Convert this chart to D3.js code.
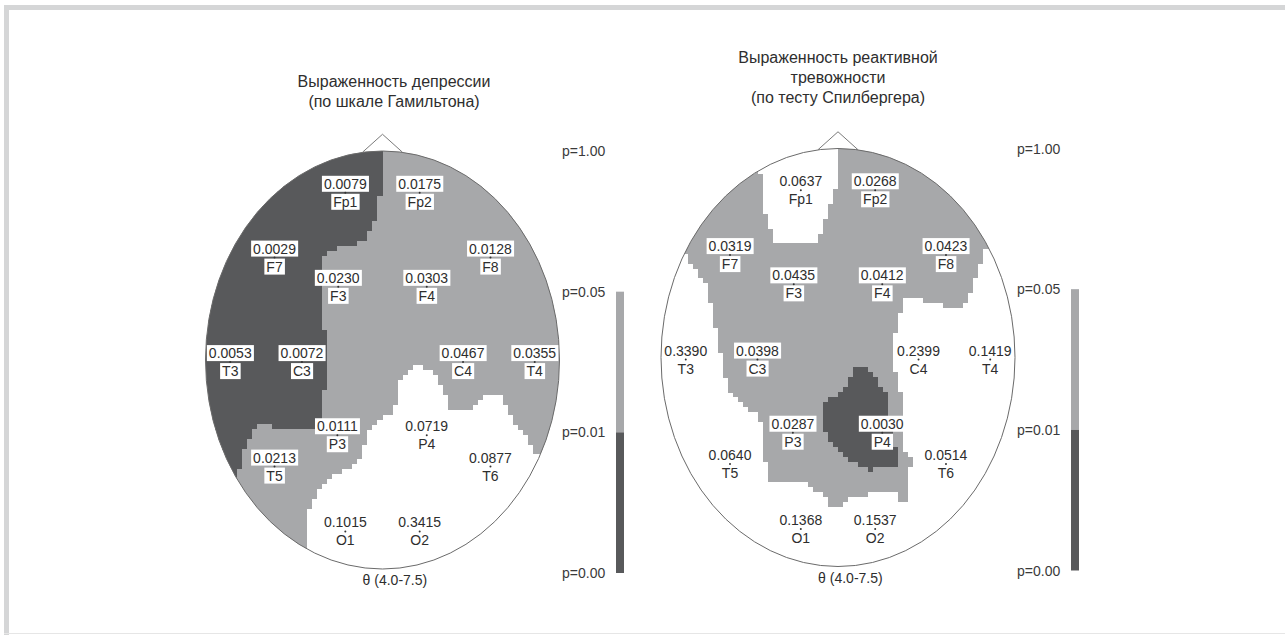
<!DOCTYPE html>
<html>
<head>
<meta charset="utf-8">
<script src="https://cdn.jsdelivr.net/npm/d3@7"></script>
<style>
  body { margin: 0; background: #fff; }
  svg text { font-family: "Liberation Sans", Arial, sans-serif; fill: #2e2e2e; }
</style>
</head>
<body>
<svg id="chart" width="1285" height="635"></svg>
<script>
// electrode montage, coordinates in % of head radius (x right, y down)
var electrodes = ["Fp1", "Fp2", "F7", "F8", "F3", "F4", "T3", "C3", "C4", "T4", "P3", "P4", "T5", "T6", "O1", "O2"];
var elecX = [-21, 21, -61, 61, -25, 25, -86, -45.5, 45.5, 86, -25.5, 25, -61, 61, -21, 21];
var elecY = [-80, -80, -49, -49, -35, -35, 1, 1, 1, 1, 36, 36, 51, 51, 82, 82];

// p-values per electrode
var pDepression = [0.0079, 0.0175, 0.0029, 0.0128, 0.0230, 0.0303, 0.0053, 0.0072, 0.0467, 0.0355, 0.0111, 0.0719, 0.0213, 0.0877, 0.1015, 0.3415];
var pAnxiety = [0.0637, 0.0268, 0.0319, 0.0423, 0.0435, 0.0412, 0.3390, 0.0398, 0.2399, 0.1419, 0.0287, 0.0030, 0.0640, 0.0514, 0.1368, 0.1537];

var titleDepression = ["Выраженность депрессии", "(по шкале Гамильтона)"];
var titleAnxiety = ["Выраженность реактивной", "тревожности", "(по тесту Спилбергера)"];
var bandLabel = "θ (4.0-7.5)";

var legendTicks = ["p=1.00", "p=0.05", "p=0.01", "p=0.00"];
var legendClasses = ["ns", "p05", "p01"];

// significance areas (same % of head radius)
var depressionP01 = [[1, -125], [1, -88.5], [-0.3, -88.5], [-0.3, -78], [-2.5, -78], [-2.5, -67], [-4.2, -67], [-5.9, -62.2], [-8.8, -58.9], [-11.6, -56.5], [-24, -54.1], [-31.4, -51.2], [-34.7, -47.8], [-34.2, -14.4], [-31.4, -14.4], [-31.4, 12], [-33.6, 16.7], [-33.6, 32.5], [-63.6, 32.5], [-63.6, 30.6], [-68.1, 30.6], [-73.2, 34.4], [-74.9, 36.8], [-77.7, 41.6], [-78.8, 47.8], [-80.5, 51.7], [-86.2, 59.8], [-131, 60], [-131, -125]];
var depressionNS = [[-43.8, 124.4], [-43.8, 81.3], [-42.1, 73.2], [-39.3, 67], [-37, 63.2], [-33.6, 58.9], [-28, 56], [-20.1, 52.6], [-14.4, 49.3], [-11, 44.5], [-8.8, 34.9], [-6, 32.1], [-1.4, 27.8], [4.2, 26.3], [8.8, 19.1], [9.9, 9.6], [13.8, 5.7], [17.2, 3.8], [21.2, 2.9], [26.8, 4.8], [31.4, 9.6], [35.3, 15.8], [38.1, 22.5], [39.8, 24.9], [47.7, 23.9], [53.4, 20.6], [56.8, 17.7], [60.7, 15.8], [66.4, 15.8], [68.1, 19.1], [72, 25.4], [74.9, 30.1], [77.7, 33.5], [81.6, 36.8], [84.5, 40.7], [85, 45.5], [106, 46.4], [106, 124.4]];

var anxietyP05 = [[-134.5, -123.2], [148, -123.2], [148, -51.4], [81.9, -51.4], [81.9, -48.1], [80.2, -43.3], [77.4, -37.1], [74.6, -30.9], [71.8, -26.1], [70.1, -22.7], [60.5, -22.7], [60.5, -25.1], [50.3, -26.1], [45.2, -28.9], [37.9, -28.9], [36.7, -26.1], [35, -21.3], [33.3, -14.6], [31.1, -8.4], [32.2, 4.5], [33.3, 10.8], [35, 15.6], [36.7, 20.3], [36.7, 42.8], [39.5, 47.6], [41.8, 48.1], [39.5, 62], [39, 69.6], [33.9, 68.2], [33.3, 64.4], [18.1, 64.8], [8.5, 66.7], [5.1, 68.2], [2.3, 72], [-4.5, 72], [-6.2, 68.2], [-10.2, 64.8], [-14.1, 62], [-16.9, 59.6], [-40.1, 60], [-41.2, 49], [-42.4, 44.3], [-42.9, 36.1], [-44.1, 29.9], [-46.9, 26.6], [-51.4, 24.2], [-57.1, 20.3], [-62.1, 14.1], [-63.8, 9.3], [-65.5, 1.2], [-67.8, -8.4], [-69.5, -14.6], [-71.2, -21.3], [-74, -32.3], [-76.3, -37.1], [-79.1, -40.4], [-81.9, -43.3], [-85.3, -46.7], [-86.4, -50], [-134.5, -50]];
var anxietyNS = [[-45.8, -123.2], [-44.1, -88.8], [-42.9, -78.7], [-41.2, -69.1], [-38.4, -62.4], [-35.6, -59.6], [-35.6, -55.3], [-11.9, -55.3], [-9, -62.4], [-6.2, -69.1], [-3.4, -73.9], [-1.7, -78.7], [-0.6, -84.9], [-0.6, -123.2]];
var anxietyP01 = [[9.6, 5], [14.1, 5], [18.1, 7.4], [22, 10.8], [25.4, 14.6], [28.2, 17.9], [29.4, 20.3], [29.4, 31.3], [31.1, 39.5], [33.9, 47.6], [33.9, 51.4], [19.8, 52.9], [18.1, 55.3], [16.4, 52.9], [9.6, 50.5], [5.1, 47.6], [0, 45.2], [-4.5, 40.9], [-7.3, 36.1], [-10.2, 33.3], [-7.3, 20.3], [-4.5, 18.9], [1.1, 17], [4, 14.6], [6.8, 10.8]];

var classColor = d3.scaleOrdinal()
    .domain(["ns", "p05", "p01"])
    .range(["#ffffff", "#a7a8aa", "#58595b"]);

var svg = d3.select("#chart");

// frame
svg.append("rect").attr("x", 4).attr("y", 5).attr("width", 1290).attr("height", 5).attr("fill", "#d5d6d7");
svg.append("rect").attr("x", 4).attr("y", 5).attr("width", 5).attr("height", 640).attr("fill", "#d5d6d7");
svg.append("rect").attr("x", 4).attr("y", 633).attr("width", 1290).attr("height", 1).attr("fill", "#e6e6e6");

var panels = [
    {id: "dep", cx: 382.5, cy: 360, title: titleDepression, titleX: 394, titleY: 87, p: pDepression,
     base: "p05", layers: [["p01", depressionP01], ["ns", depressionNS]], legendX: 562, legendY: 0},
    {id: "anx", cx: 838, cy: 357.5, title: titleAnxiety, titleX: 838, titleY: 63, p: pAnxiety,
     base: "ns", layers: [["p05", anxietyP05], ["ns", anxietyNS], ["p01", anxietyP01]], legendX: 1017, legendY: -2.5}
];

var rx = 177, ry = 209;
var nCols = 72, nRows = 86;

panels.forEach(function(pn) {
    var x = d3.scaleLinear().domain([-100, 100]).range([pn.cx - rx, pn.cx + rx]);
    var y = d3.scaleLinear().domain([-100, 100]).range([pn.cy - ry, pn.cy + ry]);
    var g = svg.append("g");

    // title
    g.append("text")
        .attr("text-anchor", "middle")
        .style("font-size", "16px")
        .selectAll("tspan")
        .data(pn.title)
        .enter()
        .append("tspan")
        .attr("x", pn.titleX)
        .attr("y", function(d, i) { return pn.titleY + i * 20; })
        .text(function(d) { return d; });

    // clip to head
    g.append("clipPath").attr("id", "clip-" + pn.id)
        .append("ellipse")
        .attr("cx", x(0)).attr("cy", y(0))
        .attr("rx", x(100) - x(0)).attr("ry", y(100) - y(0));

    // rasterise the significance areas on a grid, run-length per row
    var cw = 204 / nCols, ch = 204 / nRows;
    var runs = [];
    for (var j = 0; j < nRows; j++) {
        var Y = -102 + (j + 0.5) * ch;
        var cur = null, start = 0;
        for (var i = 0; i <= nCols; i++) {
            var cls = null;
            if (i < nCols) {
                var X = -102 + (i + 0.5) * cw;
                cls = pn.base;
                pn.layers.forEach(function(l) {
                    if (d3.polygonContains(l[1], [X, Y])) cls = l[0];
                });
            }
            if (cls !== cur) {
                if (cur !== null && cur !== "ns") runs.push({cls: cur, x0: -102 + start * cw, x1: -102 + i * cw, y0: -102 + j * ch, y1: -102 + (j + 1) * ch});
                cur = cls; start = i;
            }
        }
    }

    g.append("g")
        .attr("clip-path", "url(#clip-" + pn.id + ")")
        .selectAll("rect")
        .data(runs)
        .enter()
        .append("rect")
        .attr("x", function(d) { return x(d.x0); })
        .attr("y", function(d) { return y(d.y0); })
        .attr("width", function(d) { return x(d.x1) - x(d.x0); })
        .attr("height", function(d) { return y(d.y1) - y(d.y0) + 0.3; })
        .attr("fill", function(d) { return classColor(d.cls); })
        .attr("shape-rendering", "crispEdges");

    // head outline and nose
    g.append("ellipse")
        .attr("cx", x(0)).attr("cy", y(0))
        .attr("rx", x(100) - x(0)).attr("ry", y(100) - y(0))
        .attr("fill", "none").attr("stroke", "#6a6a6a").attr("stroke-width", 1);
    g.append("path")
        .attr("d", d3.line()([[x(-11.3), y(-99.4)], [x(0), y(-108)], [x(11.3), y(-99.4)]]))
        .attr("fill", "none").attr("stroke", "#7a7a7a").attr("stroke-width", 1);

    // electrodes
    var el = g.selectAll("g.el")
        .data(electrodes.map(function(n, k) { return {name: n, x: elecX[k], y: elecY[k], p: pn.p[k]}; }))
        .enter()
        .append("g").attr("class", "el");

    el.each(function(d) {
        var e = d3.select(this);
        var ex = x(d.x), ey = y(d.y);
        [[d.p.toFixed(4), ey - 4], [d.name, ey + 14]].forEach(function(t) {
            var box = e.append("rect");
            var tx = e.append("text")
                .attr("x", ex).attr("y", t[1])
                .attr("text-anchor", "middle")
                .style("font-size", "14px")
                .text(t[0]);
            if (d.p < 0.05) {
                var bb = tx.node().getBBox();
                box.attr("x", bb.x - 2).attr("y", t[1] - 13)
                    .attr("width", bb.width + 4).attr("height", 16)
                    .attr("fill", "#fff");
            }
        });
        e.append("circle").attr("cx", ex).attr("cy", ey).attr("r", 1).attr("fill", "#333");
    });

    // band label
    g.append("text")
        .attr("x", x(7)).attr("y", y(107.7))
        .attr("text-anchor", "middle")
        .style("font-size", "14px")
        .text(bandLabel);

    // legend
    var ly = d3.scalePoint().domain(legendTicks).range([151 + pn.legendY, 573 + pn.legendY]);
    var lg = g.append("g");
    lg.selectAll("rect")
        .data(legendClasses)
        .enter()
        .append("rect")
        .attr("x", pn.legendX + 54).attr("width", 8)
        .attr("y", function(d, i) { return ly(legendTicks[i]); })
        .attr("height", function(d, i) { return ly(legendTicks[i + 1]) - ly(legendTicks[i]); })
        .attr("fill", function(d) { return classColor(d); });
    lg.selectAll("text")
        .data(legendTicks)
        .enter()
        .append("text")
        .attr("x", pn.legendX)
        .attr("y", function(d) { return ly(d) + 5; })
        .style("font-size", "14px")
        .style("fill", "#3a3a3a")
        .text(function(d) { return d; });
});
</script>
</body>
</html>
